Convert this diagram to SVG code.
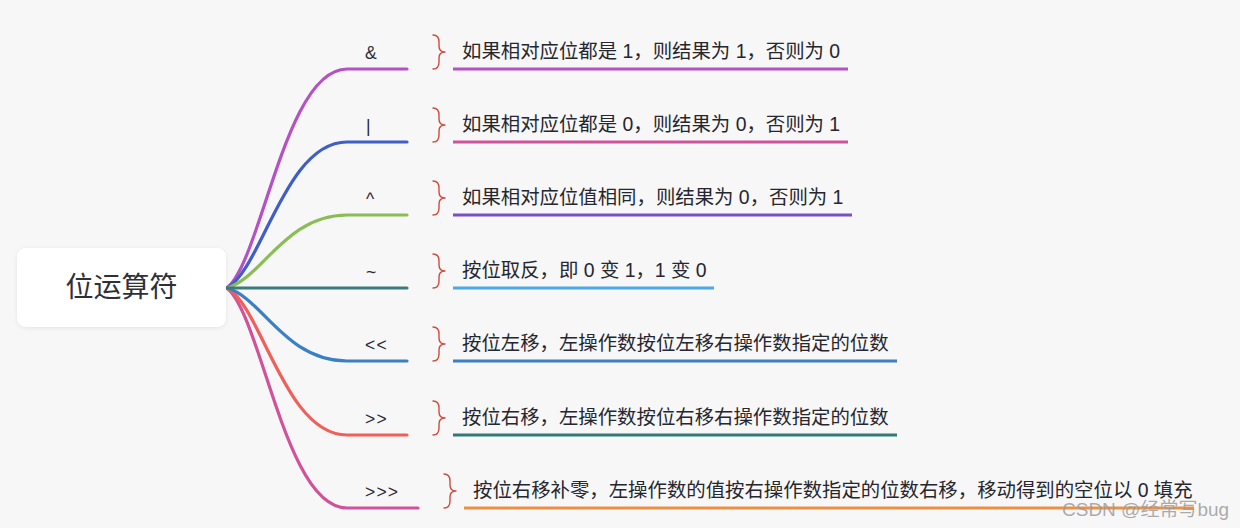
<svg xmlns="http://www.w3.org/2000/svg" width="1240" height="528" viewBox="0 0 1240 528">
<defs>
<filter id="sh" x="-10%" y="-20%" width="120%" height="140%">
<feDropShadow dx="0" dy="1" stdDeviation="2" flood-color="#000" flood-opacity="0.08"/>
</filter>
<style>
.lbl{font-family:"Liberation Sans","Noto Sans CJK SC",sans-serif;font-size:17.5px;fill:#2b2b33}
.lbl2{letter-spacing:1.2px}
.desc{font-family:"Liberation Sans","Noto Sans CJK SC",sans-serif;font-size:19.4px;fill:#26262e}
.root{font-family:"Noto Sans CJK SC",sans-serif;font-size:28px;fill:#2f2f36}
.br{fill:none;stroke:#cf4a3c;stroke-width:1.4;stroke-linecap:round;stroke-linejoin:round}
.ul{stroke-width:3.2;fill:none}
.cn{fill:none;stroke-width:3.2;stroke-linecap:round}
.wm{font-family:"Liberation Sans","Noto Sans CJK SC",sans-serif;font-size:19px;fill:#9c9c9c;fill-opacity:0.85}
</style>
</defs>
<rect x="0" y="0" width="1240" height="528" fill="#f7f7f7"/>

<g id="connectors">
<path class="cn" stroke="#b452c4" d="M227,288 C262,259.5 285,69 347,69 L407,69"/>
<path class="cn" stroke="#3f5ec6" d="M227,288 C262,269 285,142 347,142 L407,142"/>
<path class="cn" stroke="#8bbd55" d="M227,288 C262,278.5 285,215 347,215 L407,215"/>
<path class="cn" stroke="#d0529b" d="M227,288 C262,316.6 285,508 347,508 L418,508"/>
<path class="cn" stroke="#f0605a" d="M227,288 C262,307 285,435 347,435 L407,435"/>
<path class="cn" stroke="#3a80c4" d="M227,288 C262,297.5 285,361 347,361 L407,361"/>
<path class="cn" stroke="#3b7b7d" d="M227,288 L407,288"/>
</g>

<g id="root">
<rect x="17" y="248" width="209" height="79" rx="9" fill="#ffffff" filter="url(#sh)"/>
<text class="root" x="121.5" y="297" text-anchor="middle">位运算符</text>
</g>

<g id="op-and">
<text class="lbl" x="365" y="59">&amp;</text>
<path class="br" d="M433,35 Q439,35 439,42 L439,46 Q439,52 445,52 Q439,52 439,58 L439,62 Q439,69 433,69"/>
<text class="desc" x="462" y="58">如果相对应位都是 1，则结果为 1，否则为 0</text>
<line class="ul" x1="453" y1="69" x2="848" y2="69" stroke="#b452c4"/>
</g>

<g id="op-or">
<text class="lbl" x="366" y="132">|</text>
<path class="br" d="M433,108 Q439,108 439,115 L439,119 Q439,125 445,125 Q439,125 439,131 L439,135 Q439,142 433,142"/>
<text class="desc" x="462" y="131">如果相对应位都是 0，则结果为 0，否则为 1</text>
<line class="ul" x1="453" y1="142" x2="848" y2="142" stroke="#d0529b"/>
</g>

<g id="op-xor">
<text class="lbl" x="366" y="205">^</text>
<path class="br" d="M433,181 Q439,181 439,188 L439,192 Q439,198 445,198 Q439,198 439,204 L439,208 Q439,215 433,215"/>
<text class="desc" x="462" y="204">如果相对应位值相同，则结果为 0，否则为 1</text>
<line class="ul" x1="453" y1="215" x2="852" y2="215" stroke="#7a50c8"/>
</g>

<g id="op-not">
<text class="lbl" x="366" y="278">~</text>
<path class="br" d="M433,254 Q439,254 439,261 L439,265 Q439,271 445,271 Q439,271 439,277 L439,281 Q439,288 433,288"/>
<text class="desc" x="462" y="277">按位取反，即 0 变 1，1 变 0</text>
<line class="ul" x1="453" y1="288" x2="714" y2="288" stroke="#4aaae6"/>
</g>

<g id="op-shl">
<text class="lbl lbl2" x="365" y="351">&lt;&lt;</text>
<path class="br" d="M433,327 Q439,327 439,334 L439,338 Q439,344 445,344 Q439,344 439,350 L439,354 Q439,361 433,361"/>
<text class="desc" x="462" y="350">按位左移，左操作数按位左移右操作数指定的位数</text>
<line class="ul" x1="453" y1="361" x2="897" y2="361" stroke="#3a80c4"/>
</g>

<g id="op-shr">
<text class="lbl lbl2" x="365" y="425">&gt;&gt;</text>
<path class="br" d="M433,401 Q439,401 439,408 L439,412 Q439,418 445,418 Q439,418 439,424 L439,428 Q439,435 433,435"/>
<text class="desc" x="462" y="424">按位右移，左操作数按位右移右操作数指定的位数</text>
<line class="ul" x1="453" y1="435" x2="897" y2="435" stroke="#2f7a7a"/>
</g>

<g id="op-ushr">
<text class="lbl lbl2" x="365" y="498">&gt;&gt;&gt;</text>
<path class="br" d="M444,474 Q450,474 450,481 L450,485 Q450,491 456,491 Q450,491 450,497 L450,501 Q450,508 444,508"/>
<text class="desc" x="473" y="497">按位右移补零，左操作数的值按右操作数指定的位数右移，移动得到的空位以 0 填充</text>
<line class="ul" x1="464" y1="508" x2="1194" y2="508" stroke="#ec8f46"/>
</g>

<text class="wm" x="1062" y="516">CSDN @经常写bug</text>
</svg>
